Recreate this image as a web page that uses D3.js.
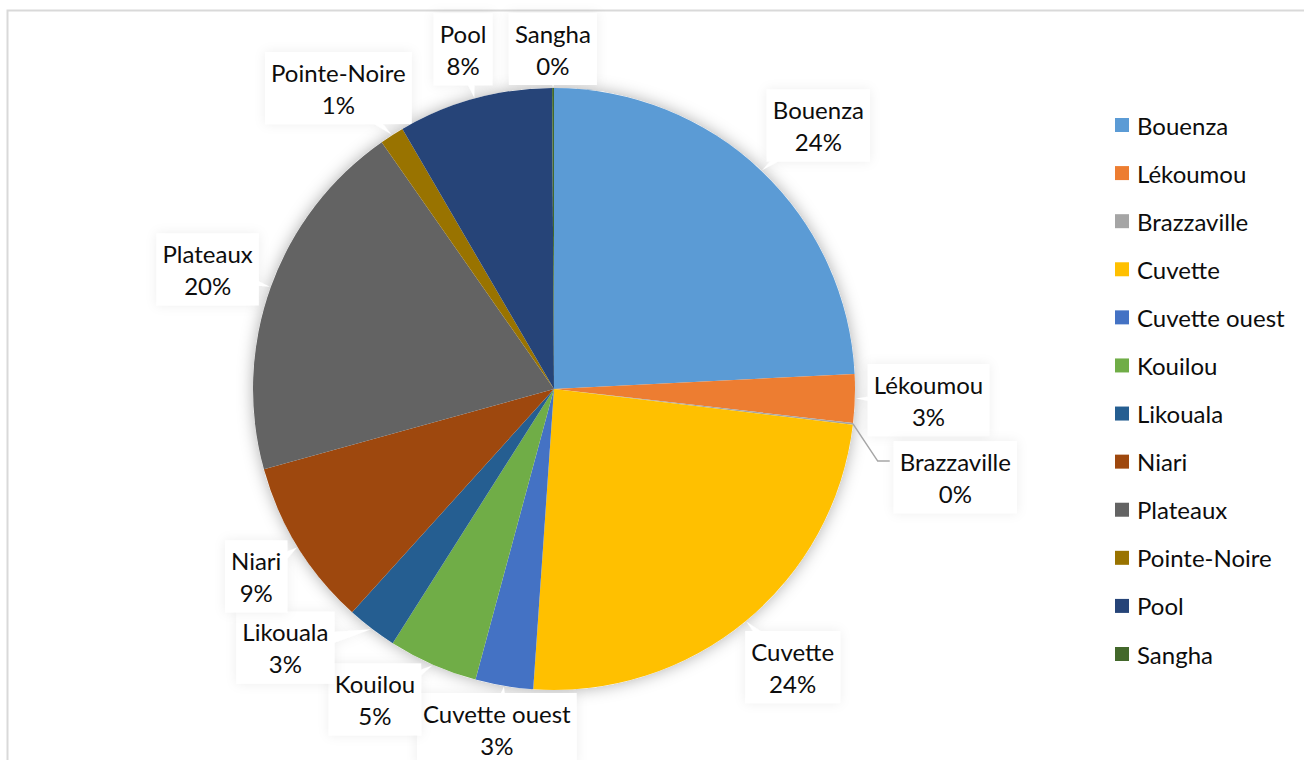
<!DOCTYPE html>
<html>
<head>
<meta charset="utf-8">
<script src="https://cdn.jsdelivr.net/npm/d3@7/dist/d3.min.js"></script>
<style>
  html, body { margin: 0; padding: 0; background: #fff; }
  svg { display: block; }
  text { font-family: Lato, "Open Sans", sans-serif; fill: #0d0d0d; }
</style>
</head>
<body>
<svg id="chart" width="1304" height="760"></svg>
<script>
// Regions and their share (percent)
const regions = ["Bouenza", "Lékoumou", "Brazzaville", "Cuvette", "Cuvette ouest", "Kouilou",
                 "Likouala", "Niari", "Plateaux", "Pointe-Noire", "Pool", "Sangha"];
const shares  = [24.2, 2.6, 0.1, 24.2, 3.1, 4.8, 2.7, 9.0, 19.6, 1.3, 8.3, 0.1];
const palette = ["#5B9BD5", "#ED7D31", "#A5A5A5", "#FFC000", "#4472C4", "#70AD47",
                 "#255E91", "#9E480E", "#636363", "#997300", "#264478", "#43682B"];

const W = 1304, H = 760;
const cx = 554, cy = 389, R = 301;
const fontSize = 24, lineH = 32;

const svg = d3.select("#chart");
const defs = svg.append("defs");

// soft glow around the pie and the callouts
const glow = defs.append("filter").attr("id", "pieGlow")
  .attr("x", "-20%").attr("y", "-20%").attr("width", "140%").attr("height", "140%");
glow.append("feDropShadow").attr("dx", 0).attr("dy", 0).attr("stdDeviation", 8)
  .attr("flood-color", "#000").attr("flood-opacity", 0.32);
const calloutShadow = defs.append("filter").attr("id", "calloutShadow")
  .attr("x", "-30%").attr("y", "-30%").attr("width", "160%").attr("height", "160%");
calloutShadow.append("feDropShadow").attr("dx", 0).attr("dy", 0).attr("stdDeviation", 6)
  .attr("flood-color", "#000").attr("flood-opacity", 0.07);

// chart frame
svg.append("rect").attr("x", 7.5).attr("y", 10.5).attr("width", W).attr("height", H)
  .attr("fill", "none").attr("stroke", "#d9d9d9").attr("stroke-width", 2);

const data = regions.map((name, i) => ({ name, value: shares[i], color: palette[i] }));
const total = d3.sum(shares);
const pie = d3.pie().sort(null).value(d => d.value);
const arcs = pie(data);
const arc = d3.arc().innerRadius(0).outerRadius(R);

// pie glow layer
svg.append("circle").attr("cx", cx).attr("cy", cy).attr("r", R)
  .attr("fill", "#fff").attr("filter", "url(#pieGlow)");

// ---- label layout ----
const measure = svg.append("text").attr("font-size", fontSize).attr("visibility", "hidden");
function textWidth(s) { measure.text(s); return measure.node().getComputedTextLength(); }

const padX = 2, padY = 1, R0 = 318;
const labels = arcs.map(a => {
  const theta = (a.startAngle + a.endAngle) / 2;
  const pct = Math.round(a.data.value / total * 100) + "%";
  const w = Math.max(textWidth(a.data.name), textWidth(pct)) / 2 + padX;
  const h = lineH + padY;
  return { a, theta, phi: theta, pct, w, h, small: a.data.value < 0.5 };
});
measure.remove();

// label box sits just outside the anchor point, its near side facing the pie;
// boxes pushed against the top/bottom edge slide back along their ray
function place(l) {
  const s = Math.sin(l.phi), c = Math.cos(l.phi);
  const m = Math.max(Math.abs(s), Math.abs(c));
  const r0 = R0 + (l.small && Math.abs(l.phi - l.theta) > 0.05 ? 35 : 0);
  l.x = cx + r0 * s + l.w * s / m;
  l.y = cy - r0 * c - l.h * c / m;
  const yc = Math.max(17 + lineH, Math.min(761 - lineH, l.y));
  if (yc !== l.y && Math.abs(c) > 0.7) l.x = cx + s * (cy - yc) / c;
  l.y = yc;
}
function overlap(p, q) {
  const gap = (p.small || q.small) ? 10 : 1;
  return Math.abs(p.x - q.x) < p.w + q.w + gap && Math.abs(p.y - q.y) < p.h + q.h + gap;
}
labels.forEach(place);
const step = 0.5 * Math.PI / 180;
for (let iter = 0; iter < 400; iter++) {
  let moved = false;
  for (let i = 0; i < labels.length; i++) {
    const p = labels[i], q = labels[(i + 1) % labels.length];
    if (!overlap(p, q)) continue;
    moved = true;
    if (p.small && !q.small) p.phi -= step;
    else q.phi += step;
    place(p); place(q);
  }
  if (!moved) break;
}

// callouts (box + pointer toward the slice)
const callouts = svg.append("g").attr("class", "callouts");
labels.forEach(l => {
  l.leader = l.small && Math.abs(l.phi - l.theta) > 3 * Math.PI / 180;
  const g = callouts.append("g").attr("filter", "url(#calloutShadow)");
  g.append("rect").attr("x", l.x - l.w - 4).attr("y", l.y - l.h - 3)
    .attr("width", 2 * l.w + 8).attr("height", 2 * l.h + 6).attr("fill", "#fff");
  if (!l.leader) {
    const tx = cx + (R + 1) * Math.sin(l.theta), ty = cy - (R + 1) * Math.cos(l.theta);
    const dx = l.x - tx, dy = l.y - ty, len = Math.hypot(dx, dy);
    const nx = -dy / len * 12, ny = dx / len * 12;
    g.append("path")
      .attr("d", `M${tx},${ty}L${l.x + nx},${l.y + ny}L${l.x - nx},${l.y - ny}Z`)
      .attr("fill", "#fff");
  }
});

// slices
svg.append("g").attr("transform", `translate(${cx},${cy})`)
  .selectAll("path").data(arcs).join("path")
  .attr("d", arc).attr("fill", d => d.data.color);

// leader lines for displaced labels
labels.filter(l => l.leader).forEach(l => {
  const sx = cx + R * Math.sin(l.theta), sy = cy - R * Math.cos(l.theta);
  const side = Math.sin(l.phi) >= 0 ? 1 : -1;
  const ex = l.x - side * (l.w - padX + 10), ey = l.y - lineH / 2;
  svg.append("polyline")
    .attr("points", `${sx},${sy} ${ex - side * 12},${ey} ${ex},${ey}`)
    .attr("fill", "none").attr("stroke", "#a6a6a6").attr("stroke-width", 1.5);
});

// label text
const lt = svg.append("g").selectAll("text").data(labels).join("text")
  .attr("font-size", fontSize).attr("text-anchor", "middle");
lt.append("tspan").attr("x", d => d.x).attr("y", d => d.y - lineH / 2)
  .attr("dominant-baseline", "central").text(d => d.a.data.name);
lt.append("tspan").attr("x", d => d.x).attr("y", d => d.y + lineH / 2)
  .attr("dominant-baseline", "central").text(d => d.pct);

// legend
const legendY = d3.scalePoint().domain(regions).range([125, 654]);
const lg = svg.append("g").selectAll("g").data(data).join("g")
  .attr("transform", d => `translate(1115,${legendY(d.name)})`);
lg.append("rect").attr("x", 0).attr("y", -7).attr("width", 14).attr("height", 14)
  .attr("fill", d => d.color);
lg.append("text").attr("x", 22).attr("y", 0).attr("dominant-baseline", "central")
  .attr("font-size", fontSize).text(d => d.name);
</script>
</body>
</html>
